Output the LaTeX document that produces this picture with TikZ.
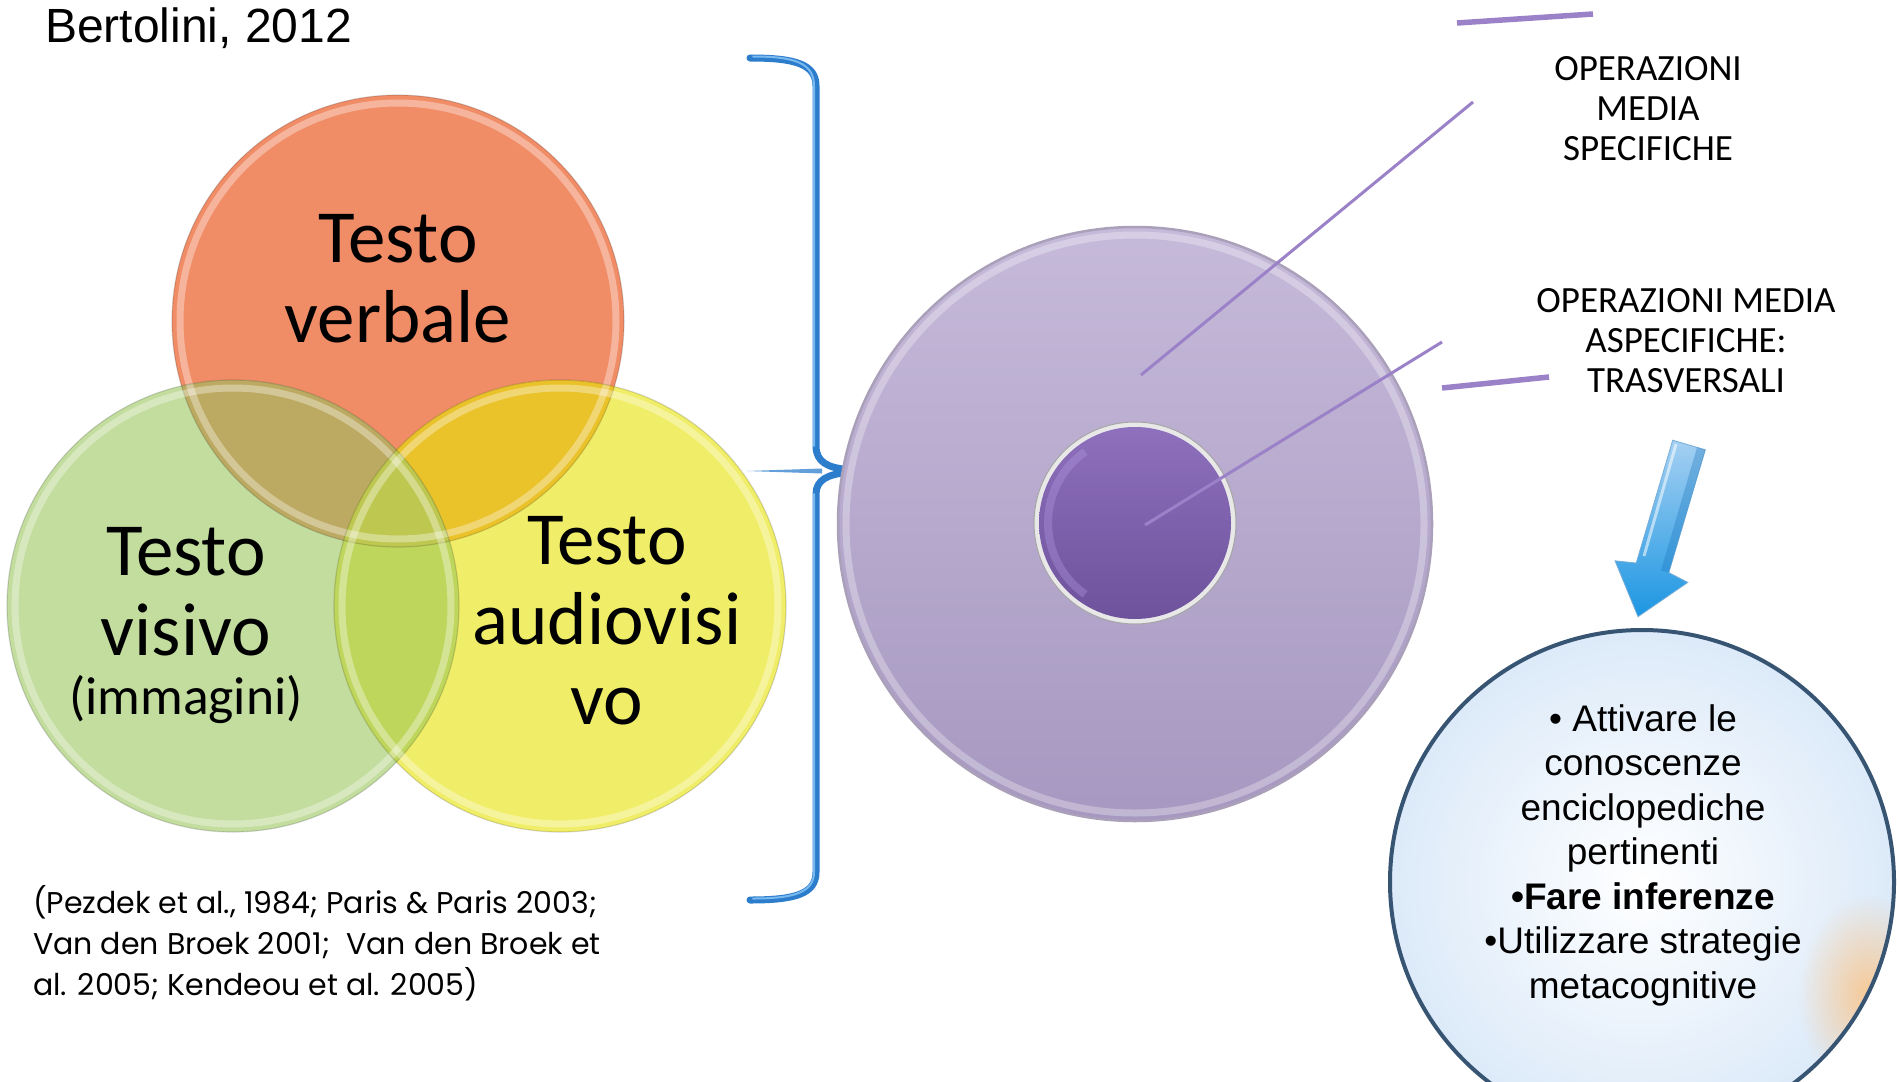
\documentclass[tikz,border=0pt]{standalone}
\usepackage{fontspec}
\setmainfont{Carlito}
\newfontfamily\arialf{Liberation Sans}
\newfontfamily\citef{Poppins}
\usetikzlibrary{fadings}

% Venn palette
\definecolor{vred}{RGB}{240,140,102}
\definecolor{vgreen}{RGB}{194,221,158}
\definecolor{vyellow}{RGB}{240,238,104}
\definecolor{vrg}{RGB}{188,170,98}
\definecolor{vry}{RGB}{234,194,42}
\definecolor{vgy}{RGB}{190,214,92}
\definecolor{vrgy}{RGB}{190,200,80}
% purple disc
\definecolor{purpT}{RGB}{198,186,218}
\definecolor{purpB}{RGB}{166,152,192}
\definecolor{purpEdge}{RGB}{170,160,185}
\definecolor{coreT}{RGB}{142,112,188}
\definecolor{coreB}{RGB}{110,82,156}
\definecolor{coreHi}{RGB}{180,155,228}
\definecolor{leadc}{RGB}{155,130,200}
% blue elements
\definecolor{brkc}{RGB}{45,125,205}
\definecolor{brkhi}{RGB}{120,185,240}
\definecolor{arrT}{RGB}{165,208,242}
\definecolor{arrB}{RGB}{28,150,226}
\definecolor{arrEdge}{RGB}{30,120,190}
\definecolor{bubEdge}{RGB}{55,85,115}
\definecolor{bubOut}{RGB}{220,234,249}
\definecolor{warm}{RGB}{250,198,140}

\tikzfading[name=softspot, inner color=transparent!10, outer color=transparent!100]

\tikzset{
  venntext/.style={font=\fontsize{75}{80}\selectfont, align=center, inner sep=0pt},
  optext/.style={font=\fontsize{37}{40}\selectfont, align=center, inner sep=0pt},
  bubtext/.style={font=\arialf\fontsize{37}{44.5}\selectfont, align=center, inner sep=0pt},
  rim/.style={white, opacity=.35, line width=7},
  edge/.style={black, opacity=.15, line width=1.2},
  brk/.style={brkc, line width=7, line cap=round},
  brkshine/.style={brkhi, line width=2, line cap=round},
  lead/.style={leadc, line width=3},
  leadbar/.style={leadc, line width=5.5},
}

\begin{document}
\begin{tikzpicture}[x=1pt,y=-1pt]
\useasboundingbox (0,0) rectangle (1897,1081);
\fill[white] (0,0) rectangle (1897,1081);

% ---------- title ----------
\node[font=\arialf\fontsize{48}{56}\selectfont, anchor=base west, inner sep=0pt] (title) at (45,43) {Bertolini, 2012};

% ---------- Venn diagram ----------
\coordinate (cR) at (398,321);
\coordinate (cG) at (233,606);
\coordinate (cY) at (560,606);
\fill[vred] (cR) circle[radius=226];
\fill[vgreen] (cG) circle[radius=226];
\fill[vyellow] (cY) circle[radius=226];
\begin{scope}
  \clip (cR) circle[radius=226];
  \fill[vrg] (cG) circle[radius=226];
  \fill[vry] (cY) circle[radius=226];
\end{scope}
\begin{scope}
  \clip (cG) circle[radius=226];
  \fill[vgy] (cY) circle[radius=226];
  \clip (cY) circle[radius=226];
  \fill[vrgy] (cR) circle[radius=226];
\end{scope}
\foreach \c in {cR,cG,cY}{
  \draw[rim] (\c) circle[radius=218];
  \draw[edge] (\c) circle[radius=226];
}
% multi-line nodes: the base anchor sits on the last line's baseline
\node[venntext, anchor=base] (tverb) at (398,342) {Testo\\verbale};
\node[venntext, anchor=base] (tvis) at (186,714) {Testo\\visivo\\[-21pt]{\fontsize{53.5}{59}\selectfont(immagini)}};
\node[venntext, anchor=base] (taud) at (607,724) {Testo\\audiovisi\\vo};

% ---------- references ----------
\node[font=\citef\fontsize{30}{41}\selectfont, align=left, anchor=base west, inner sep=0pt] (refs) at (33,995)
  {(Pezdek et al., 1984; Paris \& Paris 2003;\\Van den Broek 2001;\ \ Van den Broek et\\al. 2005; Kendeou et al. 2005)};

% ---------- brace ----------
\coordinate (bTop) at (750,58);
\coordinate (bBot) at (750,900);
\coordinate (bTip) at (917,471);
\coordinate (bTail) at (747,471);
\fill[brkc!75] (bTail) -- (822,468.5) -- (822,473.5) -- cycle;
\draw[brk] (bTop) .. controls (795,58) and (816,64) .. (816,86) -- (816,446) .. controls (816,462) and (828,468) .. (848,469.5);
\draw[brk] (bBot) .. controls (795,900) and (816,894) .. (816,872) -- (816,494) .. controls (816,480) and (828,474) .. (848,472.5);
\fill[brkc] (832,466) -- (bTip) ++(0,-2.5) -- ++(0,5) -- (832,476) -- cycle;
\draw[brkshine] (753,56.5) .. controls (795,56.5) and (814,63) .. (814,86) -- (814,446);
\draw[brkshine] (753,898.5) .. controls (795,898.5) and (814,892) .. (814,872) -- (814,494);

% ---------- media discs ----------
\coordinate (cP) at (1135,524);
\shade[top color=purpT, bottom color=purpB] (cP) circle[radius=297];
\draw[white, opacity=.3, line width=7] (cP) circle[radius=289];
\draw[purpEdge, line width=2.5] (cP) circle[radius=297];

\coordinate (cI) at (1135,523);
\fill[gray!18] (cI) circle[radius=101];
\draw[gray!70, line width=1] (cI) circle[radius=101];
\shade[top color=coreT, bottom color=coreB] (cI) circle[radius=96];
\draw[coreHi, opacity=.35, line width=8] ([shift={(125:87)}]cI) arc[start angle=125, end angle=235, radius=87];

% leader lines to the labels
\coordinate (s1) at (1141,375);
\coordinate (e1) at (1473,102);
\coordinate (s2) at (1145,525);
\coordinate (e2) at (1442,342);
\draw[lead] (s1) -- (e1);
\draw[lead] (s2) -- (e2);
\coordinate (m1a) at (1457,23);
\coordinate (m1b) at (1593,14);
\coordinate (m2a) at (1442,388);
\coordinate (m2b) at (1549,377);
\draw[leadbar] (m1a) -- (m1b);
\draw[leadbar] (m2a) -- (m2b);

\node[optext, anchor=base] (ops) at (1648,160) {OPERAZIONI\\MEDIA\\SPECIFICHE};
\node[optext, anchor=base] (opa) at (1686,392) {OPERAZIONI MEDIA\\ASPECIFICHE:\\TRASVERSALI};

% ---------- arrow ----------
\shade[top color=arrT, bottom color=arrB, draw=arrEdge!60, line width=.8]
  (1672.7,440.2) -- (1705.3,449.8) -- (1668.8,572.6) -- (1687.8,582.4) -- (1638,616.7)
  -- (1615,560.8) -- (1636.2,563) -- cycle;
\draw[white, opacity=.55, line width=3] (1676,444) -- (1644,556);
\fill[arrEdge, opacity=.35] (1697,447.4) -- (1705.3,449.8) -- (1668.8,572.6) -- (1661,570.5) -- cycle;

% ---------- strategies bubble ----------
\coordinate (cB) at (1642,882);
\shade[inner color=white, outer color=bubOut] (cB) circle[radius=252];
\begin{scope}
  \clip (cB) circle[radius=250];
  \fill[warm, path fading=softspot] (1868,995) ellipse[x radius=70, y radius=100];
\end{scope}
\draw[bubEdge, line width=4] (cB) circle[radius=252];
\node[bubtext, anchor=base] (strat) at (1643,998)
  {• Attivare le\\conoscenze\\enciclopediche\\pertinenti\\\textbf{•Fare inferenze}\\•Utilizzare strategie\\metacognitive};
\end{tikzpicture}
\end{document}
